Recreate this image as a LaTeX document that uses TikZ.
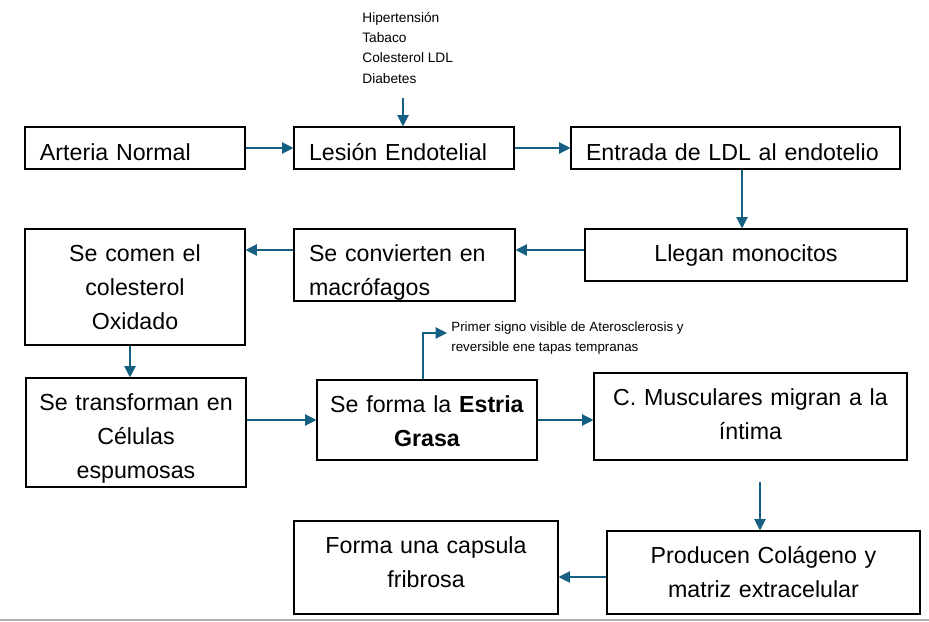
\documentclass[tikz,border=0pt]{standalone}
\usepackage{fontspec}
\setmainfont{Liberation Sans}
\usepackage{xcolor}
\usetikzlibrary{arrows.meta,positioning}
\definecolor{azulflecha}{RGB}{21,96,130}

\begin{document}
\begin{tikzpicture}[
    caja/.style={rectangle,draw,line width=0.6pt,inner sep=0pt},
    texto/.style={inner sep=0pt,anchor=north,align=center,font=\fontsize{13.2}{19.5}\selectfont,execute at begin node=\strut},
    factor/.style={inner sep=0pt,align=left,font=\fontsize{7.8}{11.4}\selectfont},
    nota/.style={inner xsep=0.08cm,inner ysep=0pt,align=left,font=\fontsize{7.6}{11.4}\selectfont},
    flecha/.style={-{Triangle[length=6.5pt,width=6.5pt]},draw=azulflecha,line width=0.7pt}]
    \useasboundingbox (0,0) rectangle (18.58,-12.44);

    % Fila superior
    \node[caja,minimum width=4.4cm,minimum height=0.84cm] (normal) at (2.7,-2.96) {};
    \node[texto,align=left,text width=3.8cm] (tnormal) at ([yshift=-0.2cm]normal.north) {Arteria Normal};
    \node[caja,minimum width=4.4cm,minimum height=0.84cm] (lesion) at (8.08,-2.96) {};
    \node[texto,align=left,text width=3.8cm] (tlesion) at ([yshift=-0.2cm]lesion.north) {Lesión Endotelial};
    \node[caja,minimum width=6.58cm,minimum height=0.84cm] (ldl) at (14.71,-2.96) {};
    \node[texto,align=left,text width=5.98cm] (tldl) at ([yshift=-0.2cm]ldl.north) {Entrada de LDL al endotelio};

    % Factores de riesgo
    \node[factor,anchor=west] (factores) at (7.24,-0.96) {Hipertensión\\Tabaco\\Colesterol LDL\\Diabetes};
    \coordinate (riesgo) at (8.06,-1.96);

    % Segunda fila
    \node[caja,minimum width=6.44cm,minimum height=1.04cm] (monocitos) at (14.92,-5.1) {};
    \node[texto,text width=5.84cm] (tmonocitos) at ([yshift=-0.17cm]monocitos.north) {Llegan monocitos};
    \node[caja,minimum width=4.42cm,minimum height=1.44cm] (macrofagos) at (8.09,-5.3) {};
    \node[texto,align=left,text width=3.82cm] (tmacrofagos) at ([yshift=-0.17cm]macrofagos.north) {Se convierten en\\macrófagos};
    \node[caja,minimum width=4.4cm,minimum height=2.32cm] (comen) at (2.7,-5.74) {};
    \node[texto,text width=4cm] (tcomen) at ([yshift=-0.17cm]comen.north) {Se comen el\\colesterol\\Oxidado};

    % Tercera fila
    \node[caja,minimum width=4.4cm,minimum height=2.18cm] (espumosas) at (2.72,-8.65) {};
    \node[texto,text width=4cm] (tespumosas) at ([yshift=-0.17cm]espumosas.north) {Se transforman en\\Células\\espumosas};
    \node[caja,minimum width=4.4cm,minimum height=1.6cm] (estria) at (8.54,-8.4) {};
    \node[texto,text width=4cm] (testria) at ([yshift=-0.17cm]estria.north) {Se forma la \textbf{Estria}\\\textbf{Grasa}};
    \node[caja,minimum width=6.26cm,minimum height=1.74cm] (musculares) at (15.01,-8.33) {};
    \node[texto,text width=5.86cm] (tmusculares) at ([yshift=-0.17cm]musculares.north) {C. Musculares migran a la\\íntima};
    \node[nota,anchor=west] (nota) at (8.94,-6.76) {Primer signo visible de Aterosclerosis y\\reversible ene tapas tempranas};

    % Cuarta fila
    \node[caja,minimum width=5.28cm,minimum height=1.86cm] (capsula) at (8.52,-11.35) {};
    \node[texto,text width=4.88cm] (tcapsula) at ([yshift=-0.17cm]capsula.north) {Forma una capsula\\fribrosa};
    \node[caja,minimum width=6.26cm,minimum height=1.66cm] (colageno) at (15.27,-11.45) {};
    \node[texto,text width=5.86cm] (tcolageno) at ([yshift=-0.17cm]colageno.north) {Producen Colágeno y\\matriz extracelular};
    \coordinate (migra) at (15.2,-9.64);

    % Flechas
    \draw[flecha] (riesgo) -- (riesgo |- lesion.north);
    \draw[flecha] (normal.east) -- (lesion.west);
    \draw[flecha] (lesion.east) -- (ldl.west);
    \draw[flecha] ([xshift=-0.08cm]ldl.south -| monocitos.north) -- ([xshift=-0.08cm]monocitos.north);
    \draw[flecha] ([yshift=0.1cm]monocitos.west) -- ([yshift=0.1cm]monocitos.west -| macrofagos.east);
    \draw[flecha] ([yshift=0.3cm]macrofagos.west) -- ([yshift=0.3cm]macrofagos.west -| comen.east);
    \draw[flecha] ([xshift=-0.1cm]comen.south) -- ([xshift=-0.1cm]comen.south |- espumosas.north);
    \draw[flecha] (espumosas.east |- estria) -- (estria.west);
    \draw[flecha] (estria.east) -- (estria.east -| musculares.west);
    \draw[flecha] ([xshift=-0.08cm]estria.north) |- ([yshift=0.1cm]nota.west);
    \draw[flecha] (migra) -- (migra |- colageno.north);
    \draw[flecha] ([yshift=-0.09cm]colageno.west) -- ([yshift=-0.09cm]colageno.west -| capsula.east);

    % Linea inferior
    \draw[gray!60,line width=0.9pt] (0,-12.4) -- (18.58,-12.4);
\end{tikzpicture}
\end{document}
